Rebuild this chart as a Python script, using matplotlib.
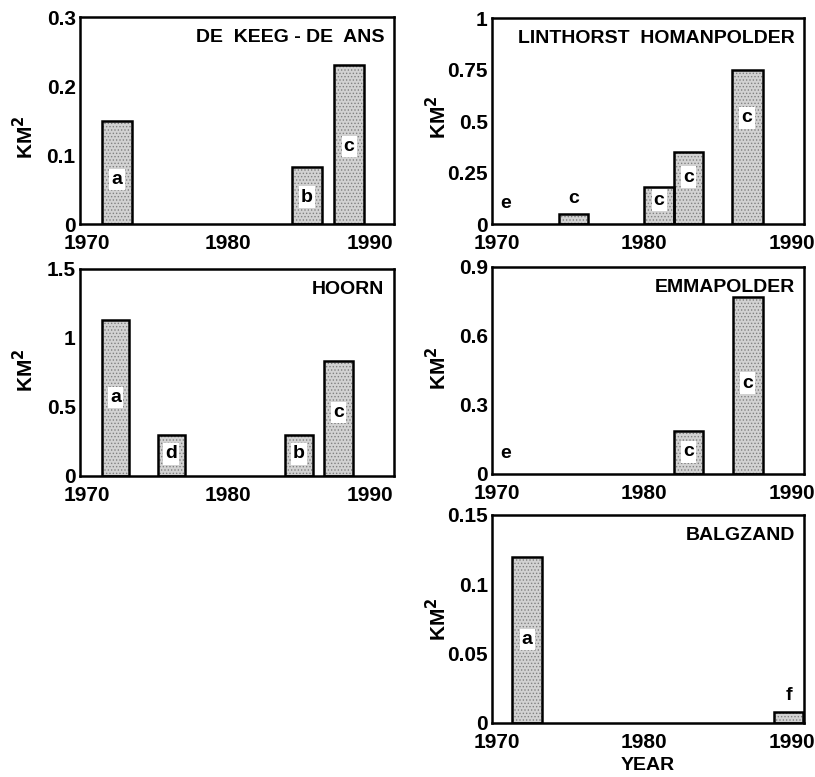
import matplotlib
matplotlib.use("Agg")
import matplotlib.pyplot as plt
from matplotlib.ticker import FuncFormatter

plt.rcParams['font.family'] = ['Liberation Sans', 'DejaVu Sans']
plt.rcParams['font.weight'] = 'bold'
plt.rcParams['hatch.linewidth'] = 0.6

# ---- data ----
keeg_start = [1971.05, 1984.5, 1987.5]
keeg_end = [1973.2, 1986.6, 1989.6]
keeg_val = [0.15, 0.083, 0.23]
keeg_lab = ['a', 'b', 'c']
keeg_laby = [0.064, 0.039, 0.112]

hoorn_start = [1971.05, 1975.0, 1984.0, 1986.8]
hoorn_end = [1973.0, 1976.95, 1986.0, 1988.8]
hoorn_val = [1.13, 0.30, 0.30, 0.83]
hoorn_lab = ['a', 'd', 'b', 'c']
hoorn_laby = [0.57, 0.16, 0.16, 0.46]

lint_start = [1974.2, 1980.0, 1982.0, 1985.9]
lint_end = [1976.2, 1982.0, 1984.0, 1988.0]
lint_val = [0.05, 0.18, 0.35, 0.75]
lint_lab = ['c', 'c', 'c', 'c']
lint_laby = [0.126, 0.116, 0.228, 0.515]

emma_start = [1982.0, 1986.0]
emma_end = [1984.0, 1988.0]
emma_val = [0.185, 0.77]
emma_lab = ['c', 'c']
emma_laby = [0.096, 0.395]

balg_start = [1971.05, 1988.8]
balg_end = [1973.1, 1990.75]
balg_val = [0.12, 0.008]
balg_lab = ['a', 'f']
balg_laby = [0.06, 0.020]

xticks = [1970, 1980, 1990]

fig = plt.figure(figsize=(8.15, 7.77), dpi=100)

def panel(rect, title, starts, ends, vals, labs, labys, yticks, xlim,
          extra=None, ylab_y=0.51):
    ax = fig.add_axes(rect)
    for s, e, v, l, ly in zip(starts, ends, vals, labs, labys):
        ax.bar(s, v, width=e - s, align='edge', color='#d2d2d2',
               edgecolor='#808080', hatch='.....', linewidth=0, zorder=2)
        ax.bar(s, v, width=e - s, align='edge', fill=False,
               edgecolor='black', linewidth=1.8, zorder=3)
        lx = (s + e) / 2
        if ly > v:
            ax.text(lx, ly, l, ha='center', va='center', fontsize=14,
                    fontweight='bold', zorder=4)
        else:
            ax.text(lx, ly, l, ha='center', va='center', fontsize=14,
                    fontweight='bold', zorder=4,
                    bbox=dict(facecolor='white', edgecolor='none', pad=1.5))
    if extra is not None:
        for (x, y, t) in extra:
            ax.text(x, y, t, ha='center', va='center', fontsize=14,
                    fontweight='bold', zorder=4)
    ax.set_xlim(*xlim)
    ax.set_ylim(yticks[0], yticks[-1])
    ax.set_xticks(xticks)
    ax.set_yticks(yticks)
    ax.yaxis.set_major_formatter(FuncFormatter(lambda v, p: ('%g' % v)))
    ax.tick_params(length=0, labelsize=15)
    ax.tick_params(axis='x', pad=7)
    ax.tick_params(axis='y', pad=3)
    for lab in ax.get_xticklabels() + ax.get_yticklabels():
        lab.set_fontweight('bold')
    for sp in ax.spines.values():
        sp.set_linewidth(1.8)
    ax.set_ylabel('KM$^\\mathbf{2}$', fontsize=15, fontweight='bold')
    ax.yaxis.set_label_coords(-0.135, ylab_y)
    ax.text(0.97, 0.90, title, transform=ax.transAxes, ha='right',
            va='center', fontsize=14, fontweight='bold')
    return ax

left_xlim = (1969.5, 1991.7)
right_xlim = (1969.7, 1990.8)

panel([0.098, 0.7117, 0.385, 0.2664], 'DE  KEEG - DE  ANS',
      keeg_start, keeg_end, keeg_val, keeg_lab, keeg_laby,
      [0, 0.1, 0.2, 0.3], left_xlim, ylab_y=0.42)
panel([0.098, 0.3874, 0.385, 0.2664], 'HOORN',
      hoorn_start, hoorn_end, hoorn_val, hoorn_lab, hoorn_laby,
      [0, 0.5, 1, 1.5], left_xlim)
panel([0.6037, 0.7117, 0.3828, 0.2651], 'LINTHORST  HOMANPOLDER',
      lint_start, lint_end, lint_val, lint_lab, lint_laby,
      [0, 0.25, 0.5, 0.75, 1], right_xlim,
      extra=[(1970.6, 0.10, 'e')], ylab_y=0.52)
panel([0.6037, 0.39, 0.3828, 0.2664], 'EMMAPOLDER',
      emma_start, emma_end, emma_val, emma_lab, emma_laby,
      [0, 0.3, 0.6, 0.9], right_xlim,
      extra=[(1970.6, 0.09, 'e')])
ax5 = panel([0.6037, 0.0695, 0.3828, 0.2677], 'BALGZAND',
            balg_start, balg_end, balg_val, balg_lab, balg_laby,
            [0, 0.05, 0.1, 0.15], right_xlim, ylab_y=0.50)
ax5.set_xlabel('YEAR', fontsize=14, fontweight='bold', labelpad=4)

fig.savefig('out.png', dpi=100)
